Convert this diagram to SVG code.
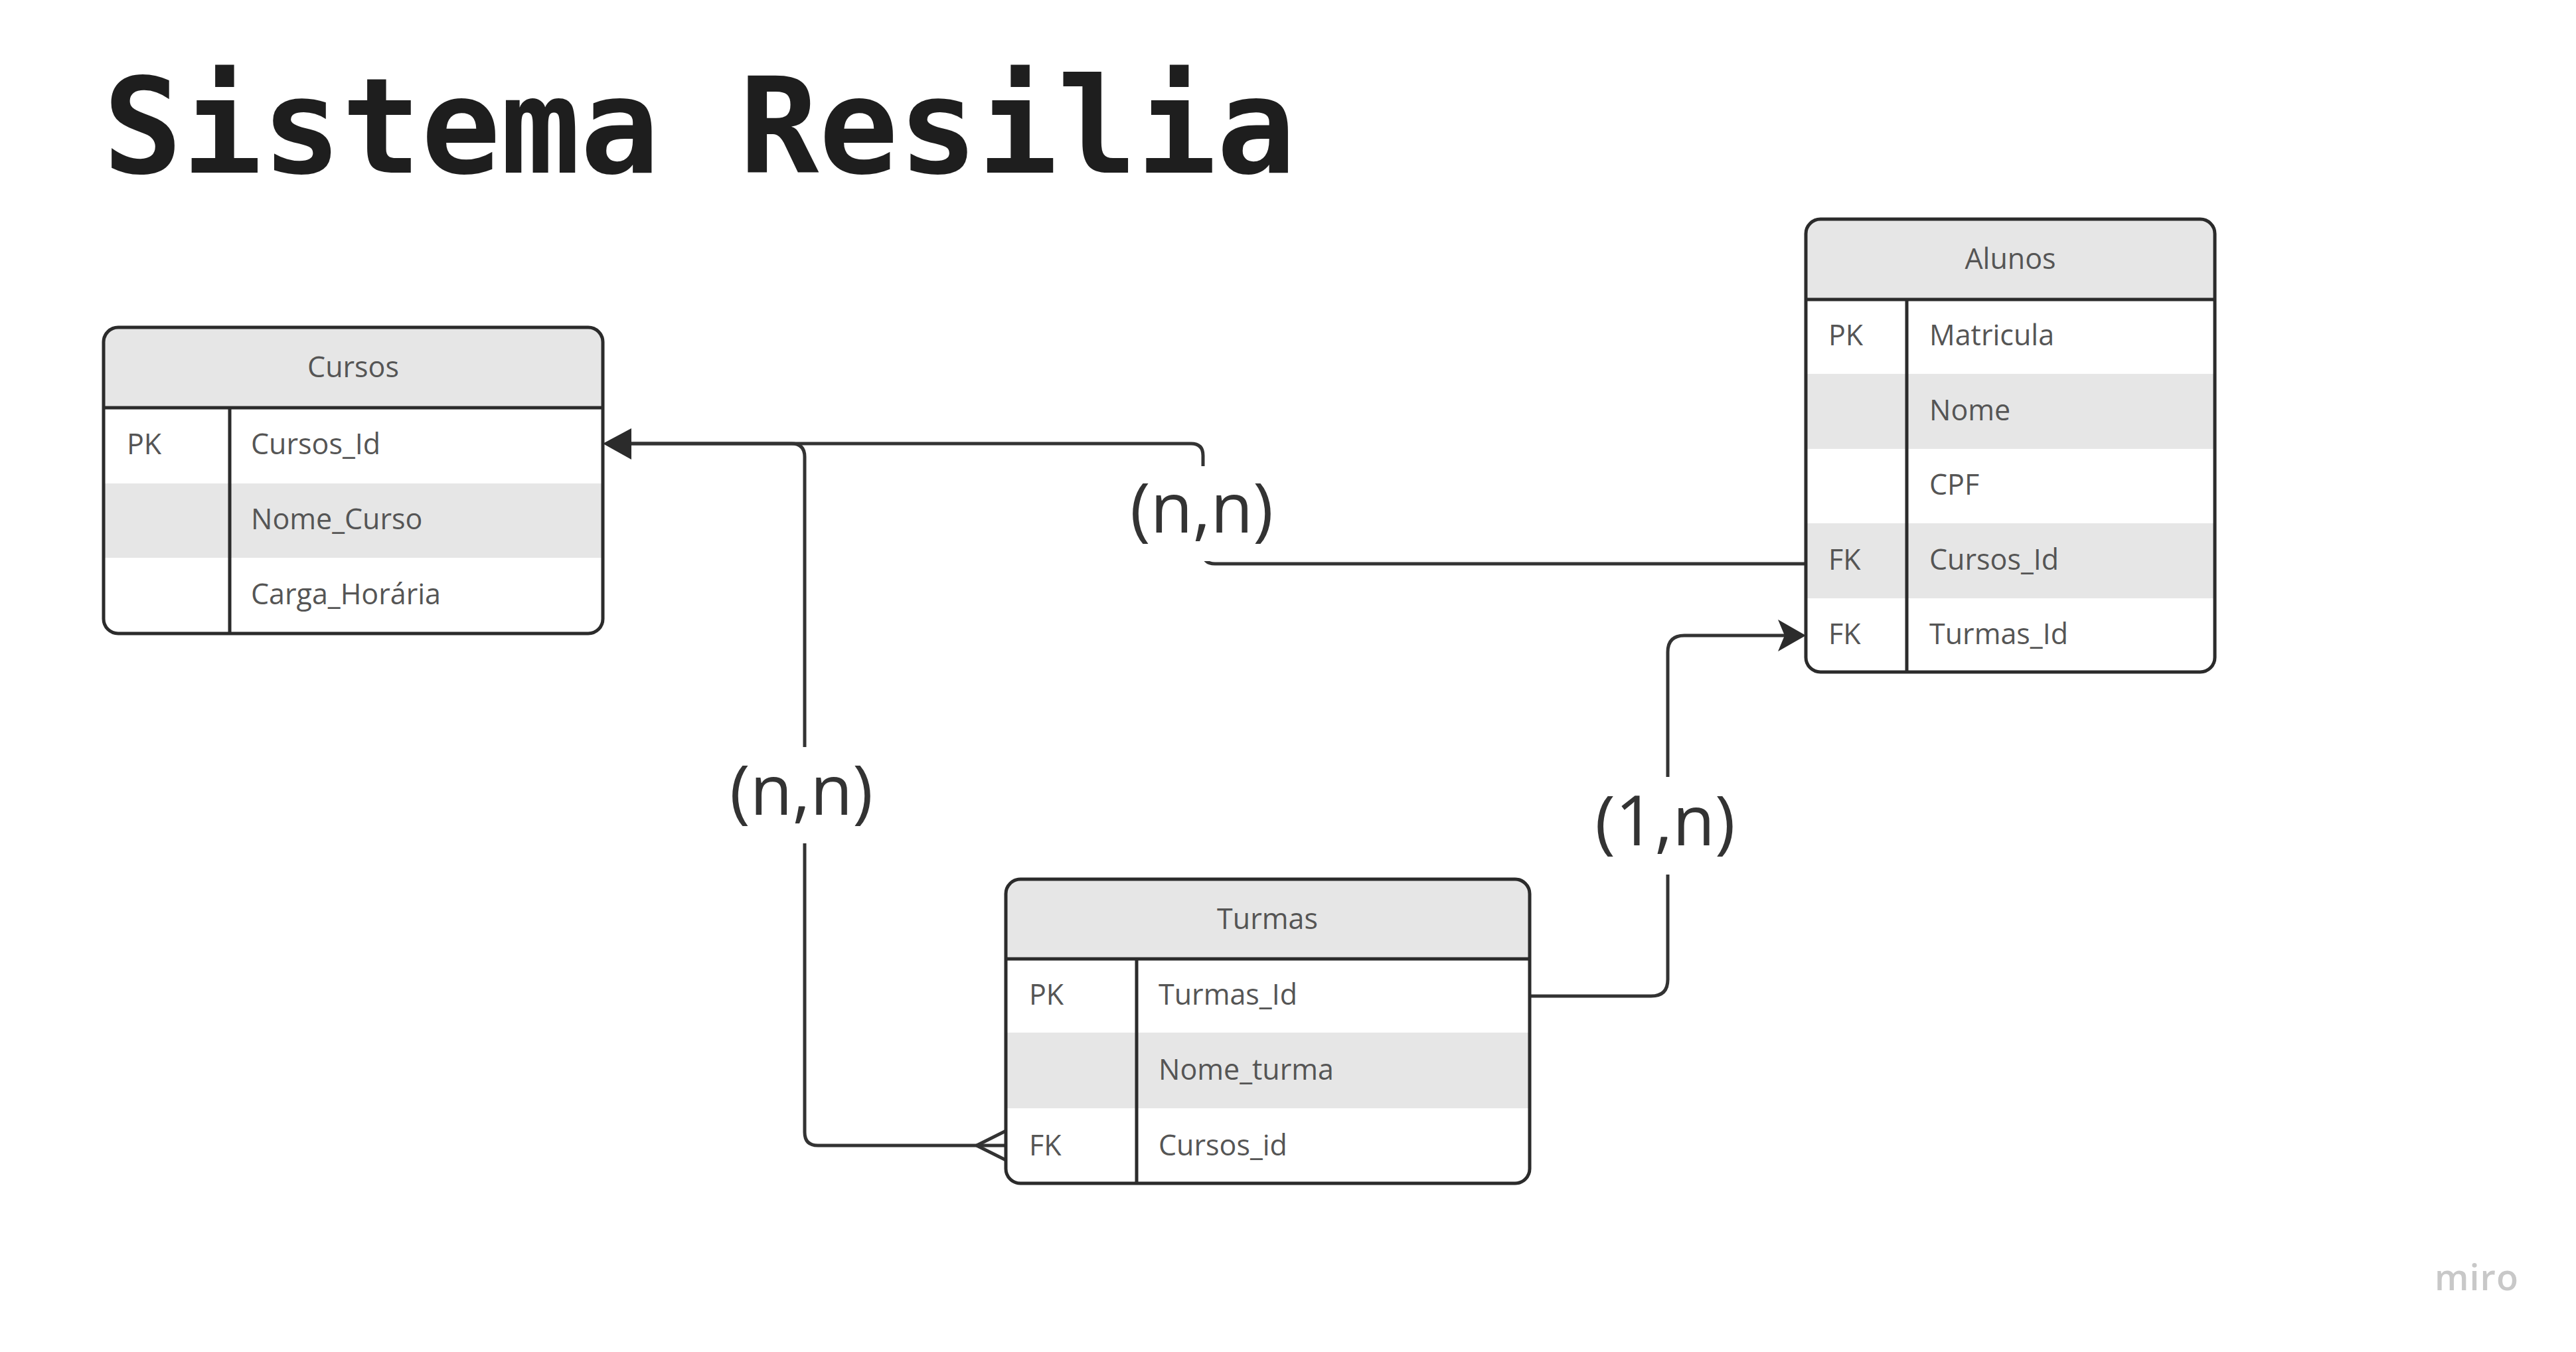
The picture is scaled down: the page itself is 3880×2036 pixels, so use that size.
<svg xmlns="http://www.w3.org/2000/svg" width="3880" height="2036" viewBox="0 0 3880 2036">
<style>
.bg{fill:#fff}
.box{fill:none;stroke:#2b2b2b;stroke-width:5}
.hdr{fill:#e6e6e6}
.ln{stroke:#2b2b2b;stroke-width:5}
.t{font-family:"Open Sans","Liberation Sans",sans-serif;font-size:43px;fill:#555}
.c{text-anchor:middle}
.conn{fill:none;stroke:#333;stroke-width:5}
.head{fill:#2b2b2b}
.lbg{fill:#fff}
.lbl{font-family:"Open Sans","Liberation Sans",sans-serif;font-size:104px;fill:#333;text-anchor:middle}
.title{font-family:"DejaVu Sans Mono","Liberation Mono",monospace;font-weight:bold;font-size:199px;fill:#1e1e1e}
.logo{font-family:"Open Sans","Liberation Sans",sans-serif;font-weight:600;font-size:54px;fill:#c8c8c8;letter-spacing:1px}
</style>
<defs>
<clipPath id="clipCursos"><rect x="156" y="493" width="752" height="461" rx="22"/></clipPath>
<clipPath id="clipAlunos"><rect x="2720" y="330" width="616" height="682" rx="22"/></clipPath>
<clipPath id="clipTurmas"><rect x="1515" y="1324" width="789" height="458" rx="22"/></clipPath>
</defs>
<rect x="0" y="0" width="3880" height="2036" fill="#fff"/>
<text class="title" x="155" y="260">Sistema Resilia</text>

<g id="connectors">
<path class="conn" d="M2720,849 H1830 Q1812,849 1812,831 V686 Q1812,668 1794,668 H930"/>
<path class="conn" d="M1515,1725 H1232 Q1212,1725 1212,1705 V688 Q1212,668 1192,668 H930"/>
<path class="conn" d="M2304,1500 H2487 Q2512,1500 2512,1475 V982 Q2512,957 2537,957 H2690"/>
<polygon class="head" points="908,668 951,645 951,692"/>
<polygon class="head" points="2720,957 2678,933 2688,957 2678,981"/>
<path class="conn" d="M1471,1725 L1515,1703 M1471,1725 L1515,1747"/>
<rect class="lbg" x="1690" y="702" width="240" height="143"/>
<text class="lbl" x="1810" y="802">(n,n)</text>
<rect class="lbg" x="1090" y="1125" width="240" height="145"/>
<text class="lbl" x="1207" y="1227">(n,n)</text>
<rect class="lbg" x="2390" y="1170" width="240" height="147"/>
<text class="lbl" x="2508" y="1273">(1,n)</text>
</g>

<g id="cursos">
<rect class="bg" x="156" y="493" width="752" height="461" rx="22"/>
<g clip-path="url(#clipCursos)">
<rect class="hdr" x="156" y="493" width="752" height="121"/>
<rect class="hdr" x="156" y="728" width="752" height="112"/>
</g>
<rect class="box" x="156" y="493" width="752" height="461" rx="22"/>
<line class="ln" x1="156" y1="614" x2="908" y2="614"/>
<line class="ln" x1="346" y1="614" x2="346" y2="954"/>
<text class="t c" x="532" y="568">Cursos</text>
<text class="t" x="191" y="684">PK</text>
<text class="t" x="378" y="684">Cursos_Id</text>
<text class="t" x="378" y="797">Nome_Curso</text>
<text class="t" x="378" y="910">Carga_Horária</text>
</g>

<g id="alunos">
<rect class="bg" x="2720" y="330" width="616" height="682" rx="22"/>
<g clip-path="url(#clipAlunos)">
<rect class="hdr" x="2720" y="330" width="616" height="121"/>
<rect class="hdr" x="2720" y="563" width="616" height="113"/>
<rect class="hdr" x="2720" y="788" width="616" height="113"/>
</g>
<rect class="box" x="2720" y="330" width="616" height="682" rx="22"/>
<line class="ln" x1="2720" y1="451" x2="3336" y2="451"/>
<line class="ln" x1="2872" y1="451" x2="2872" y2="1012"/>
<text class="t c" x="3028" y="405">Alunos</text>
<text class="t" x="2754" y="520">PK</text>
<text class="t" x="2906" y="520">Matricula</text>
<text class="t" x="2906" y="633">Nome</text>
<text class="t" x="2906" y="745">CPF</text>
<text class="t" x="2754" y="858">FK</text>
<text class="t" x="2906" y="858">Cursos_Id</text>
<text class="t" x="2754" y="970">FK</text>
<text class="t" x="2906" y="970">Turmas_Id</text>
</g>

<g id="turmas">
<rect class="bg" x="1515" y="1324" width="789" height="458" rx="22"/>
<g clip-path="url(#clipTurmas)">
<rect class="hdr" x="1515" y="1324" width="789" height="120"/>
<rect class="hdr" x="1515" y="1555" width="789" height="114"/>
</g>
<rect class="box" x="1515" y="1324" width="789" height="458" rx="22"/>
<line class="ln" x1="1515" y1="1444" x2="2304" y2="1444"/>
<line class="ln" x1="1712" y1="1444" x2="1712" y2="1782"/>
<text class="t c" x="1909" y="1399">Turmas</text>
<text class="t" x="1550" y="1513">PK</text>
<text class="t" x="1745" y="1513">Turmas_Id</text>
<text class="t" x="1745" y="1626">Nome_turma</text>
<text class="t" x="1550" y="1740">FK</text>
<text class="t" x="1745" y="1740">Cursos_id</text>
</g>

<text class="logo" x="3667" y="1943">miro</text>
</svg>
